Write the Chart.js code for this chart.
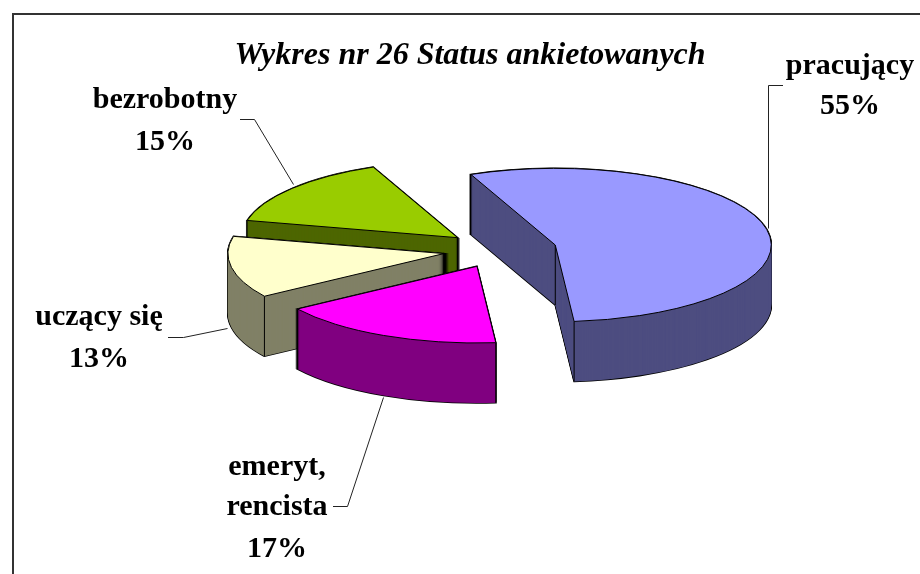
<!DOCTYPE html>
<html lang="pl">
<head>
<meta charset="utf-8">
<title>Wykres nr 26</title>
<script src="https://cdn.jsdelivr.net/npm/chart.js@4"></script>
<style>
    html, body { margin: 0; padding: 0; background: #fff; overflow: hidden; }
    canvas { display: block; }
</style>
</head>
<body>
<canvas id="statusChart" width="920" height="574"></canvas>
<script>
// Data
const CATEGORIES = ["pracujący", "emeryt, rencista", "uczący się", "bezrobotny"];
const VALUES = [55, 17, 13, 15];
const TITLE = "Wykres nr 26 Status ankietowanych";

// Colours: top surface and side walls
const TOP_COLORS = ["#9999FF", "#FF00FF", "#FFFFCC", "#99CC00"];
const WALL_COLORS = ["#4D4D80", "#800080", "#808066", "#4D6600"];

// 3D look
const PIE_X = 499;
const PIE_Y = 250;
const RADIUS = 216;
const SQUASH = 0.355;
const DEPTH = 60;
const EXPLODE = [58, 51, 56, 54];
const DRAW_ORDER = [3, 2, 0, 1]; // back to front

// Label placement, one entry per category
const FONT = "Liberation Serif";
const LABELS = [
    { x: 850, lines: [["pracujący", 66], ["55%", 106]], leader: [[783, 85], [768, 85], [768, 228]] },
    { x: 277, lines: [["emeryt,", 467], ["rencista", 507], ["17%", 549]], leader: [[333, 506], [347, 506], [383, 397]] },
    { x: 99, lines: [["uczący się", 317], ["13%", 359]], leader: [[168, 337], [183, 337], [227, 328]] },
    { x: 165, lines: [["bezrobotny", 100], ["15%", 142]], leader: [[240, 119], [254, 119], [293, 184]] }
];

// Path of a squashed wedge, same angles as the library's arc
function wedgePath(ctx, arc, cx, cy) {
    ctx.beginPath();
    ctx.moveTo(cx, cy);
    ctx.ellipse(cx, cy, arc.outerRadius, arc.outerRadius * SQUASH, 0, arc.startAngle, arc.endAngle);
    ctx.closePath();
}

// Let the arc element fill itself, flattened and moved to its place
function fillArc(ctx, arc, cx, cy, color) {
    const options = arc.options;
    arc.options = { ...options, backgroundColor: color, borderWidth: 0 };
    ctx.save();
    ctx.translate(cx, cy);
    ctx.scale(1, SQUASH);
    ctx.translate(-arc.x, -arc.y);
    arc.draw(ctx);
    ctx.restore();
    arc.options = options;
}

function drawSlice(ctx, arc, i) {
    const mid = (arc.startAngle + arc.endAngle) / 2;
    const cx = PIE_X + Math.cos(mid) * EXPLODE[i];
    const cy = PIE_Y + Math.sin(mid) * EXPLODE[i] * SQUASH;
    ctx.strokeStyle = "#000";

    // Walls: black hull first, dark fill over it leaves the outline
    ctx.lineWidth = 1.6;
    for (let d = DEPTH; d >= 0; d--) {
        wedgePath(ctx, arc, cx, cy + d);
        ctx.stroke();
    }
    for (let d = DEPTH; d >= 0; d--) {
        fillArc(ctx, arc, cx, cy + d, WALL_COLORS[i]);
    }

    // Vertical edges: the apex and the corners on the front half
    ctx.lineWidth = 1;
    ctx.beginPath();
    for (const a of [arc.startAngle, arc.endAngle]) {
        if (Math.sin(a) < 0) continue;
        const x = cx + Math.cos(a) * arc.outerRadius;
        const y = cy + Math.sin(a) * arc.outerRadius * SQUASH;
        ctx.moveTo(x, y);
        ctx.lineTo(x, y + DEPTH);
    }
    ctx.moveTo(cx, cy);
    ctx.lineTo(cx, cy + DEPTH);
    ctx.stroke();

    // Top surface
    fillArc(ctx, arc, cx, cy, TOP_COLORS[i]);
    wedgePath(ctx, arc, cx, cy);
    ctx.stroke();
}

const pie3d = {
    id: "pie3d",
    beforeDatasetsDraw(chart) {
        const ctx = chart.ctx;
        const arcs = chart.getDatasetMeta(0).data;
        for (const i of DRAW_ORDER) {
            drawSlice(ctx, arcs[i], i);
        }
        return false; // slices are already drawn
    },
    afterDraw(chart) {
        const ctx = chart.ctx;
        ctx.save();

        // Frame, cut off by the right and bottom of the picture
        ctx.strokeStyle = "#333";
        ctx.lineWidth = 2;
        ctx.beginPath();
        ctx.moveTo(13, chart.height);
        ctx.lineTo(13, 14);
        ctx.lineTo(chart.width, 14);
        ctx.stroke();

        // Labels and leader lines
        ctx.fillStyle = "#000";
        ctx.strokeStyle = "#222";
        ctx.lineWidth = 1;
        ctx.font = `bold 30px "${FONT}"`;
        ctx.textAlign = "center";
        ctx.textBaseline = "middle";
        for (const label of LABELS) {
            for (const [text, y] of label.lines) {
                ctx.fillText(text, label.x, y);
            }
            ctx.beginPath();
            label.leader.forEach(([x, y], n) => {
                if (n === 0) ctx.moveTo(x, y + 0.5);
                else ctx.lineTo(x + 0.5, y + 0.5);
            });
            ctx.stroke();
        }
        ctx.restore();
    }
};

new Chart(document.getElementById("statusChart"), {
    type: "pie",
    data: {
        labels: CATEGORIES,
        datasets: [{
            data: VALUES,
            backgroundColor: TOP_COLORS,
            borderWidth: 0
        }]
    },
    options: {
        responsive: false,
        animation: false,
        rotation: -23,
        radius: RADIUS,
        layout: { padding: { left: 20 } },
        plugins: {
            legend: { display: false },
            tooltip: { enabled: false },
            title: {
                display: true,
                text: TITLE,
                color: "#000",
                font: { family: FONT, size: 32, weight: "bold", style: "italic" },
                padding: { top: 37, bottom: 0 }
            }
        }
    },
    plugins: [pie3d]
});
</script>
</body>
</html>
